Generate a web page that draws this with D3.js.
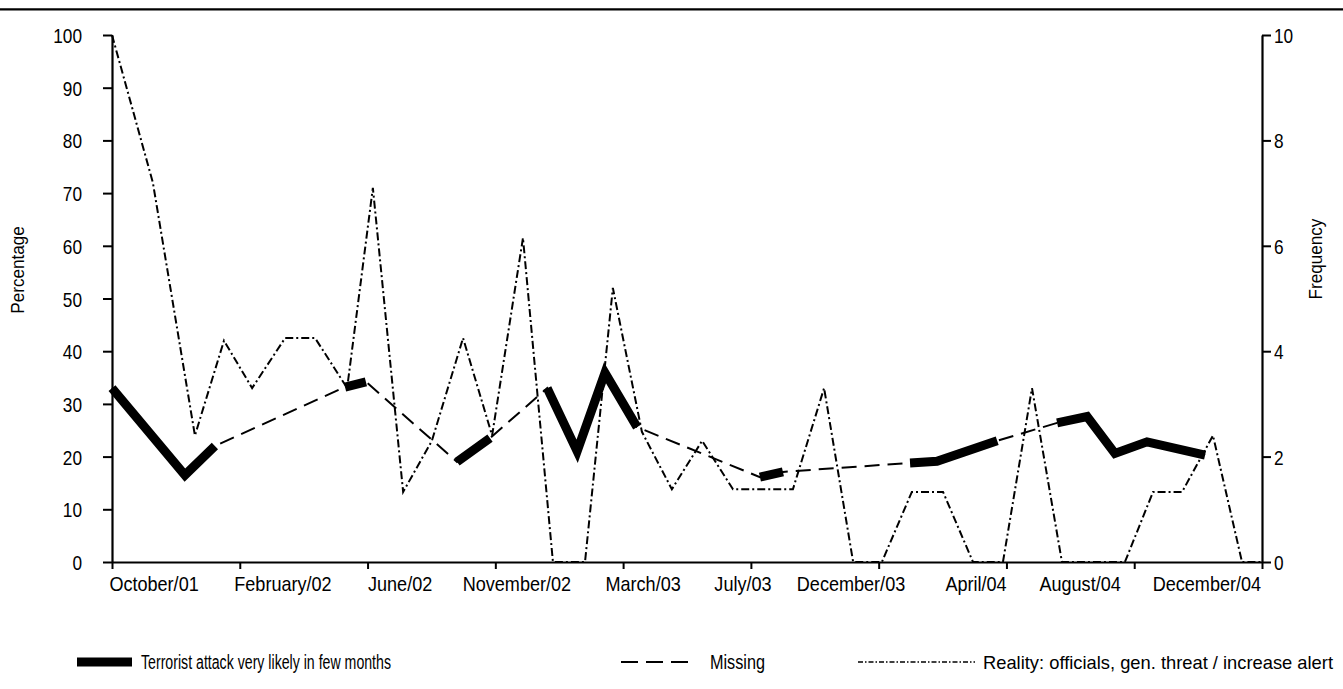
<!DOCTYPE html>
<html>
<head>
<meta charset="utf-8">
<script src="https://cdn.jsdelivr.net/npm/d3@7"></script>
<style>
  html, body { margin: 0; padding: 0; background: #fff; }
  svg { display: block; }
  text { font-family: "Liberation Sans", Arial, sans-serif; fill: #000; }
</style>
</head>
<body>
<svg id="chart" width="1343" height="689"></svg>
<script>
// ---------------- data ----------------
// x positions are observation times in months since October 2001 (0) to December 2004 (38)
const tickLabels = ["October/01", "February/02", "June/02", "November/02", "March/03",
                    "July/03", "December/03", "April/04", "August/04", "December/04"];
const tickLabelMonths = [1.39, 5.65, 9.52, 13.38, 17.55, 20.85, 24.42, 28.55, 31.99, 36.18];

// "Terrorist attack very likely in few months" (percentage); null = missing survey
const attackMonths = [0, 2.41, 3.40, null, 7.70, 8.39, null, 11.40, 12.49, null,
                      14.38, 15.37, 16.29, 17.35, null, 21.41, 22.17, null,
                      26.37, 27.26, 29.25, null, 31.23, 32.22, 33.14, 34.20, 36.12];
const attackValues = [33, 16.5, 22, null, 33.2, 34.2, null, 19, 23.5, null,
                      33, 21, 35.9, 25.6, null, 16.1, 17.1, null,
                      18.8, 19.1, 23, null, 26.4, 27.6, 20.6, 22.8, 20.3];

// "Reality: officials, gen. threat / increase alert" (frequency, right axis)
const realityMonths = [0, 1.35, 2.74, 3.70, 4.63, 5.72, 6.71, 7.77, 8.62, 9.62, 10.57,
                       11.60, 12.56, 13.58, 14.57, 15.63, 16.55, 17.51, 18.50, 19.50,
                       20.52, 21.51, 22.50, 23.53, 24.49, 25.44, 26.43, 27.46, 28.45,
                       29.44, 30.40, 31.39, 32.42, 33.47, 34.40, 35.36, 36.38, 37.34, 38];
const realityValues = [10, 7.2, 2.4, 4.2, 3.3, 4.25, 4.25, 3.3, 7.1, 1.33, 2.3,
                       4.25, 2.4, 6.15, 0, 0, 5.2, 2.47, 1.38, 2.3,
                       1.38, 1.38, 1.38, 3.3, 0, 0, 1.33, 1.33, 0,
                       0, 3.3, 0, 0, 0, 1.33, 1.33, 2.4, 0, 0];

const leftTicks = [0, 10, 20, 30, 40, 50, 60, 70, 80, 90, 100];
const rightTicks = [0, 2, 4, 6, 8, 10];
const legendLabels = ["Terrorist attack very likely in few months", "Missing",
                      "Reality: officials, gen. threat / increase alert"];

// ---------------- helpers ----------------
// squeeze text horizontally to imitate the condensed typeface of the original
function condense(sel, k) {
  sel.each(function () {
    const w = this.getComputedTextLength();
    d3.select(this).attr("textLength", w * k).attr("lengthAdjust", "spacingAndGlyphs");
  });
}
function fitWidth(sel, w) {
  sel.attr("textLength", w).attr("lengthAdjust", "spacingAndGlyphs");
}

// ---------------- layout ----------------
const svg = d3.select("#chart");
const X0 = 112, X1 = 1262, Y0 = 562, Y1 = 35;
const x = d3.scaleLinear().domain([0, 38]).range([X0, X1]);
const yL = d3.scaleLinear().domain([0, 100]).range([Y0, Y1]);
const yR = d3.scaleLinear().domain([0, 10]).range([Y0, Y1]);

// top rule
svg.append("line").attr("x1", 0).attr("x2", 1343).attr("y1", 9.3).attr("y2", 9.3)
  .attr("stroke", "#000").attr("stroke-width", 2.2);

const FS = 21;

// left axis
const gL = svg.append("g").attr("transform", `translate(${X0},0)`)
  .call(d3.axisLeft(yL).tickValues(leftTicks).tickSize(9).tickPadding(21).tickSizeOuter(0));
// right axis
const gR = svg.append("g").attr("transform", `translate(${X1},0)`)
  .call(d3.axisRight(yR).tickValues(rightTicks).tickSize(9).tickPadding(3).tickSizeOuter(0));
// bottom axis (ticks)
const tickVals = d3.range(10).map(i => i * 38 / 9);
const gB = svg.append("g").attr("transform", `translate(0,${Y0})`)
  .call(d3.axisBottom(x).tickValues(tickVals).tickSize(7).tickFormat("").tickSizeOuter(0));

[gL, gR, gB].forEach(g => {
  g.select(".domain").attr("stroke", "#000").attr("stroke-width", 2.2);
  g.selectAll(".tick line").attr("stroke", "#000").attr("stroke-width", 2);
  g.selectAll("text").attr("font-size", FS).attr("font-family", null)
    .attr("dy", "0.36em").style("fill", "#000");
});
condense(gL.selectAll("text"), 0.82);
condense(gR.selectAll("text"), 0.82);

// bottom labels
svg.append("g").selectAll("text").data(tickLabels).join("text")
  .attr("x", (d, i) => x(tickLabelMonths[i]))
  .attr("y", 591)
  .attr("text-anchor", "middle")
  .attr("font-size", FS)
  .text(d => d)
  .call(condense, 0.86);

// axis titles
svg.append("text").attr("transform", `translate(24,270) rotate(-90)`)
  .attr("text-anchor", "middle").attr("font-size", 19).text("Percentage").call(condense, 0.9);
svg.append("text").attr("transform", `translate(1322,259) rotate(-90)`)
  .attr("text-anchor", "middle").attr("font-size", 19).text("Frequency").call(condense, 0.9);

// ---------------- series ----------------
const attack = attackMonths.map((m, i) => ({ m, v: attackValues[i] }));
const reality = realityMonths.map((m, i) => ({ m, v: realityValues[i] }));

const plot = svg.append("g");

// Missing: dashed line through all observed survey points
plot.append("path")
  .datum(attack.filter(d => d.v !== null))
  .attr("fill", "none").attr("stroke", "#000").attr("stroke-width", 2)
  .attr("stroke-dasharray", "15,8")
  .attr("d", d3.line().x(d => x(d.m)).y(d => yL(d.v)));

// Reality: dash-dot on right axis
plot.append("path")
  .datum(reality)
  .attr("fill", "none").attr("stroke", "#000").attr("stroke-width", 2)
  .attr("stroke-dasharray", "8,3,2,3")
  .attr("d", d3.line().x(d => x(d.m)).y(d => yR(d.v)));

// Terrorist attack: bold solid segments
plot.append("path")
  .datum(attack)
  .attr("fill", "none").attr("stroke", "#000").attr("stroke-width", 9)
  .attr("stroke-linejoin", "miter")
  .attr("d", d3.line().defined(d => d.v !== null).x(d => x(d.m)).y(d => yL(d.v)));

// ---------------- legend ----------------
const LY = 662;
const leg = svg.append("g");
leg.append("line").attr("x1", 77).attr("x2", 132).attr("y1", LY).attr("y2", LY)
  .attr("stroke", "#000").attr("stroke-width", 9);
leg.append("text").attr("x", 141).attr("y", LY + 7).attr("font-size", 19.5)
  .text(legendLabels[0]).call(fitWidth, 250);
leg.append("line").attr("x1", 621).attr("x2", 696).attr("y1", LY).attr("y2", LY)
  .attr("stroke", "#000").attr("stroke-width", 2).attr("stroke-dasharray", "17,8");
leg.append("text").attr("x", 710).attr("y", LY + 7).attr("font-size", 19.5)
  .text(legendLabels[1]).call(fitWidth, 55);
leg.append("line").attr("x1", 858).attr("x2", 975).attr("y1", LY).attr("y2", LY)
  .attr("stroke", "#000").attr("stroke-width", 1.6).attr("stroke-dasharray", "5,2,1.5,2");
leg.append("text").attr("x", 983).attr("y", LY + 7).attr("font-size", 18.2)
  .text(legendLabels[2]).call(fitWidth, 350);
</script>
</body>
</html>
